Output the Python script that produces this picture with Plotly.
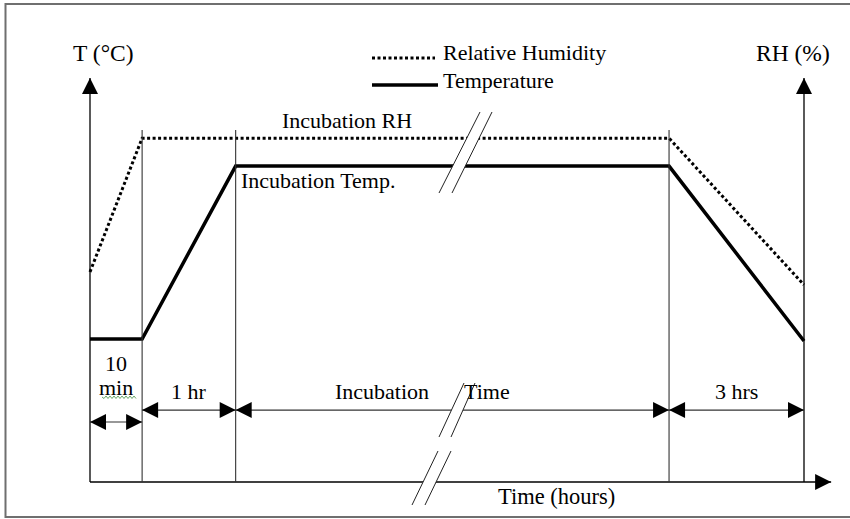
import plotly.graph_objects as go

# ---------------- data (schematic units) ----------------
# x: position along time axis (0 = T axis, 100 = RH axis), y: % of axis height
phase_edges = [0, 7.3, 20.4, 81.1, 100]
phase_labels = ["10 min", "1 hr", "Incubation Time", "3 hrs"]
phase_arrow_rows = [14.85, 17.8, 17.8, 17.8]

temp_x = [0, 7.3, 20.4, 81.1, 100]
temp_y = [35.4, 35.4, 78.2, 78.2, 34.9]

rh_x = [0, 7.3, 81.1, 100]
rh_y = [52.0, 85.1, 85.1, 48.8]

axis_top = 100
x_axis_end = 103.8
guide_top = 87.1

# ---------------- pixel <-> data helpers (for decorations) ----------------
W, H = 850, 519
X0, KX = 90.0, 7.14
Y0, KY = 482.0, 4.04


def dx(px):
    return (px - X0) / KX


def dy(py):
    return (Y0 - py) / KY


FONT = "Liberation Serif"
fig = go.Figure()

# Temperature / RH curves
fig.add_trace(go.Scatter(x=rh_x, y=rh_y, mode="lines",
                         line=dict(color="black", width=3, dash="3px,2.5px")))
fig.add_trace(go.Scatter(x=temp_x, y=temp_y, mode="lines",
                         line=dict(color="black", width=3.5)))

# Axes lines
fig.add_trace(go.Scatter(x=[0, 0], y=[0, axis_top], mode="lines",
                         line=dict(color="black", width=1.3)))
fig.add_trace(go.Scatter(x=[100, 100], y=[0, axis_top], mode="lines",
                         line=dict(color="black", width=1.3)))
fig.add_trace(go.Scatter(x=[0, x_axis_end], y=[0, 0], mode="lines",
                         line=dict(color="black", width=1.3)))

# Phase guide lines
for e in phase_edges[1:-1]:
    fig.add_trace(go.Scatter(x=[e, e], y=[0, guide_top], mode="lines",
                             line=dict(color="#333333", width=1.1)))

# Phase double arrows
for i, row in enumerate(phase_arrow_rows):
    a, b = phase_edges[i], phase_edges[i + 1]
    fig.add_trace(go.Scatter(x=[a, b], y=[row, row], mode="lines",
                             line=dict(color="#333333", width=1.2)))
    fig.add_trace(go.Scatter(x=[a, b], y=[row, row], mode="markers",
                             marker=dict(symbol=["arrow-left", "arrow-right"],
                                         size=16, color="black",
                                         line=dict(width=0))))

# Axis arrow heads
fig.add_trace(go.Scatter(x=[0, 100], y=[axis_top, axis_top], mode="markers",
                         marker=dict(symbol="arrow-up", size=16, color="black",
                                     line=dict(width=0))))
fig.add_trace(go.Scatter(x=[x_axis_end], y=[0], mode="markers",
                         marker=dict(symbol="arrow-right", size=16, color="black",
                                     line=dict(width=0))))

# Legend samples
fig.add_trace(go.Scatter(x=[dx(372), dx(435)], y=[dy(58), dy(58)], mode="lines",
                         line=dict(color="black", width=3, dash="3px,2.5px")))
fig.add_trace(go.Scatter(x=[dx(372), dx(438)], y=[dy(85), dy(85)], mode="lines",
                         line=dict(color="black", width=3.5)))

shapes = []


def brk(p1, p2, p3, p4):
    path = "M {},{} L {},{} L {},{} L {},{} Z".format(
        dx(p1[0]), dy(p1[1]), dx(p2[0]), dy(p2[1]),
        dx(p3[0]), dy(p3[1]), dx(p4[0]), dy(p4[1]))
    shapes.append(dict(type="path", path=path, fillcolor="white",
                       line=dict(width=0), layer="above"))
    for a, b in ((p1, p4), (p2, p3)):
        shapes.append(dict(type="line", x0=dx(a[0]), y0=dy(a[1]),
                           x1=dx(b[0]), y1=dy(b[1]),
                           line=dict(color="#222222", width=1), layer="above"))


brk((480, 112), (492, 112), (452, 193), (439, 193))
brk((464, 383), (475, 383), (451, 437), (439, 437))
brk((438, 451), (451, 451), (425, 505), (412, 505))

# Spell-check squiggle under "min"
zz = "M {},{}".format(dx(102), dy(397))
for i in range(1, 18):
    zz += " L {},{}".format(dx(102 + 2 * i), dy(398.5 if i % 2 else 396))
shapes.append(dict(type="path", path=zz, line=dict(color="#6aa86a", width=1),
                   layer="above"))

# Outer frame (right side lies outside the picture)
shapes.append(dict(type="rect", xref="paper", yref="paper",
                   x0=5.5 / W, x1=900 / W, y0=1 - 517 / H, y1=1 - 4 / H,
                   line=dict(color="#6f6f6f", width=2), layer="above"))

annotations = []


def txt(s, px, py, anchor="center", size=22):
    annotations.append(dict(x=dx(px), y=dy(py), text=s, showarrow=False,
                            xanchor=anchor, yanchor="middle",
                            font=dict(family=FONT, size=size, color="black")))


txt("T (°C)", 103.5, 53, size=23.5)
txt("RH (%)", 793, 53, size=23.5)
txt("Relative Humidity", 441, 52, "left")
txt("Temperature", 441, 80, "left")
txt("Incubation RH", 347, 120)
txt("Incubation Temp.", 239, 180, "left")

mid = [(phase_edges[i] + phase_edges[i + 1]) / 2 for i in range(4)]
ten, mn = phase_labels[0].split(" ")
annotations.append(dict(x=mid[0], y=dy(363), text=ten, showarrow=False,
                        font=dict(family=FONT, size=22, color="black")))
annotations.append(dict(x=mid[0], y=dy(387), text=mn, showarrow=False,
                        font=dict(family=FONT, size=22, color="black")))
annotations.append(dict(x=mid[1], y=dy(391), text=phase_labels[1], showarrow=False,
                        font=dict(family=FONT, size=22, color="black")))
inc, tm = phase_labels[2].split(" ")
txt(inc, 333, 391, "left")
txt(tm, 462, 391, "left")
annotations.append(dict(x=mid[3], y=dy(391), text=phase_labels[3], showarrow=False,
                        font=dict(family=FONT, size=22, color="black")))
txt("Time (hours)", 496, 496, "left", size=22.5)

fig.update_layout(
    width=W, height=H,
    margin=dict(l=0, r=0, t=0, b=0),
    paper_bgcolor="white", plot_bgcolor="white",
    showlegend=False,
    font=dict(family=FONT),
    xaxis=dict(visible=False, range=[dx(0), dx(W)], fixedrange=True),
    yaxis=dict(visible=False, range=[dy(H), dy(0)], fixedrange=True),
    shapes=shapes,
    annotations=annotations,
)

fig.write_html("out.html", config={"displayModeBar": False},
               post_script="document.body.style.margin='0';document.body.style.overflow='hidden';")
